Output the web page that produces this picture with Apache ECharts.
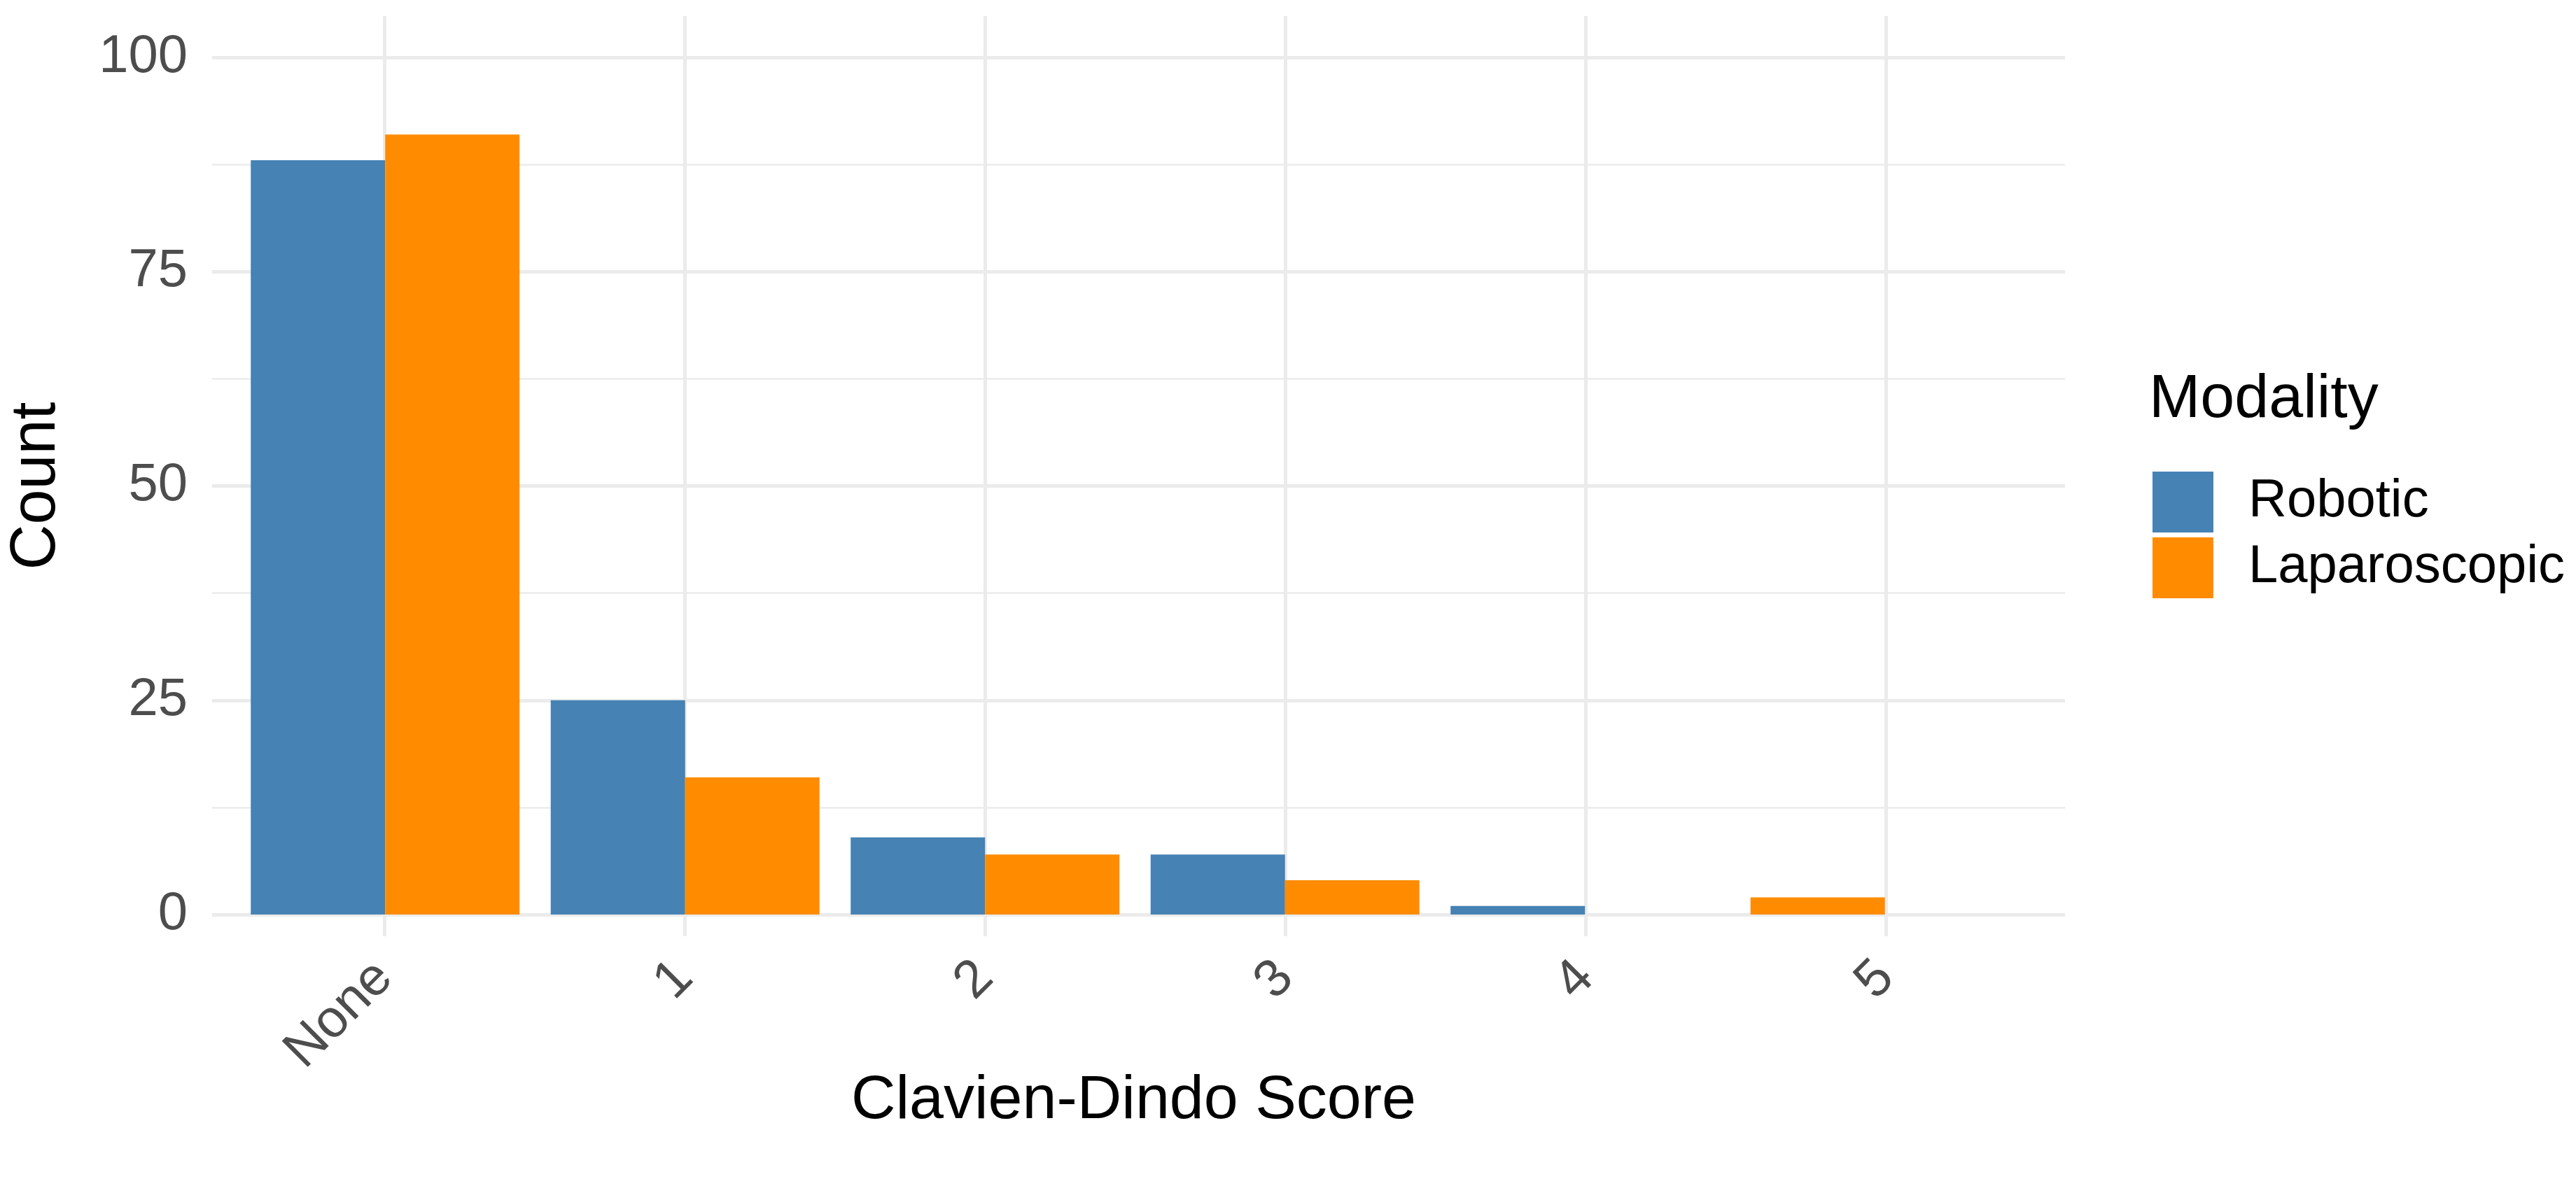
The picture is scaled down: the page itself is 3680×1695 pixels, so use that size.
<!DOCTYPE html>
<html><head><meta charset="utf-8">
<script src="https://cdn.jsdelivr.net/npm/echarts@6/dist/echarts.min.js"></script>
<style>html,body{margin:0;background:#fff}#c{width:3680px;height:1695px}</style>
</head><body><div id="c"></div>
<script>
const categories = ['None','1','2','3','4','5'];
const robotic = [88,25,9,7,1,0];
const laparoscopic = [91,16,7,4,0,2];
const yTicks = [0,25,50,75,100];
const seriesNames = ['Robotic','Laparoscopic'];
const colors = ['#4682B4','#FF8C00'];

// ggplot dodge drops zero-count groups: if Robotic is 0, Laparoscopic takes the left slot
const leftSlot = robotic.map((v,i)=> v===0 && laparoscopic[i]>0 ? {value:laparoscopic[i],itemStyle:{color:colors[1]}} : v);
const rightSlot = laparoscopic.map((v,i)=> robotic[i]===0 ? 0 : v);

const font = 'Liberation Sans, Arimo, Helvetica, Arial, sans-serif';
const chart = echarts.init(document.getElementById('c'));
chart.setOption({
  animation:false,
  backgroundColor:'#fff',
  grid:[
    {left:293,right:730,top:82,bottom:388},
    {left:549,right:986,top:23,bottom:357},
    {left:336,right:773,top:82,bottom:388}
  ],
  xAxis:[
    {gridIndex:0,type:'value',show:false},
    {gridIndex:1,type:'category',data:categories,boundaryGap:false,
     axisLine:{show:false},axisTick:{show:false},
     splitLine:{show:true,lineStyle:{color:'#ebebeb',width:5}},
     axisLabel:{rotate:45,margin:48,fontSize:76,color:'#4d4d4d',fontFamily:font,interval:0}},
    {gridIndex:2,type:'category',data:categories,show:false}
  ],
  yAxis:[
    {gridIndex:0,type:'value',min:yTicks[0],max:yTicks[yTicks.length-1],interval:25,
     axisLine:{show:false},axisTick:{show:false},
     axisLabel:{fontSize:76,color:'#4d4d4d',fontFamily:font,margin:35},
     splitLine:{lineStyle:{color:'#ebebeb',width:5}},
     minorTick:{show:false,splitNumber:2},
     minorSplitLine:{show:true,lineStyle:{color:'#ebebeb',width:2.5}},
     name:'Count',nameLocation:'middle',nameGap:205,
     nameTextStyle:{fontSize:90,color:'#000',fontFamily:font}},
    {gridIndex:1,type:'value',show:false},
    {gridIndex:2,type:'value',min:0,max:100,show:false}
  ],
  legend:{orient:'vertical',left:3070,top:669,itemWidth:87,itemHeight:87,itemGap:7,
    icon:'rect',data:seriesNames,
    textStyle:{fontSize:76,color:'#000',fontFamily:font,padding:[0,0,0,45]}},
  graphic:[
    {type:'text',left:3070,top:528,style:{text:'Modality',fontSize:88,fill:'#000',fontFamily:font}},
    {type:'text',left:1216,top:1530,style:{text:'Clavien-Dindo Score',fontSize:88,fill:'#000',fontFamily:font}}
  ],
  series:[
    {name:seriesNames[0],type:'bar',xAxisIndex:2,yAxisIndex:2,data:leftSlot,barWidth:192,barGap:'0%',itemStyle:{color:colors[0]}},
    {name:seriesNames[1],type:'bar',xAxisIndex:2,yAxisIndex:2,data:rightSlot,barWidth:192,barGap:'0%',itemStyle:{color:colors[1]}}
  ]
});
</script></body></html>
